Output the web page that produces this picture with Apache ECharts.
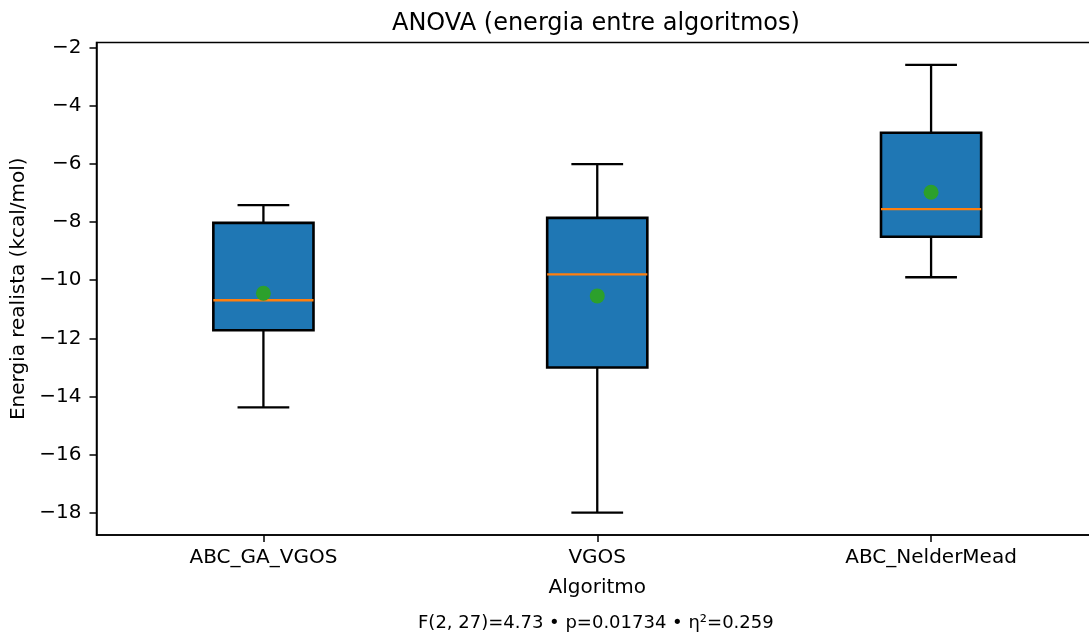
<!DOCTYPE html>
<html>
<head>
<meta charset="utf-8">
<script src="https://cdn.jsdelivr.net/npm/echarts@6/dist/echarts.min.js"></script>
<style>html,body{margin:0;padding:0;background:#fff}#c{width:1089px;height:635px}</style>
</head>
<body>
<div id="c"></div>
<script>
const categories = ['ABC_GA_VGOS', 'VGOS', 'ABC_NelderMead'];
const whiskerLow  = [-14.37, -17.99, -9.90];
const q1Values    = [-11.72, -13.00, -8.51];
const medians     = [-10.69, -9.80, -7.56];
const q3Values    = [-8.03, -7.86, -4.93];
const whiskerHigh = [-7.42, -6.01, -2.60];
const means       = [-10.45, -10.54, -6.98];
const yTicks = [-18, -16, -14, -12, -10, -8, -6, -4, -2];
const yMin = -18.76, yMax = -1.83;
const titleText = 'ANOVA (energia entre algoritmos)';
const xLabel = 'Algoritmo';
const yLabel = 'Energia realista (kcal/mol)';
const noteText = 'F(2, 27)=4.73 • p=0.01734 • η²=0.259';

const FONT = 'DejaVu Sans';
const boxData = categories.map((c, i) => [i, whiskerLow[i], q1Values[i], medians[i], q3Values[i], whiskerHigh[i]]);
const meanData = categories.map((c, i) => [i, means[i]]);
const fmt = v => String(v).replace('-', '\u2212');

const chart = echarts.init(document.getElementById('c'), null, {renderer: 'canvas'});
chart.setOption({
  animation: false,
  backgroundColor: '#ffffff',
  grid: {
    left: 96.5, right: -9, top: 42.5, bottom: 100,
    containLabel: false, outerBoundsMode: 'none',
    show: true, borderColor: '#000', borderWidth: 1.5, backgroundColor: 'transparent'
  },
  xAxis: {
    type: 'category', data: categories, boundaryGap: true,
    name: xLabel, nameLocation: 'middle', nameGap: 43,
    nameTextStyle: {fontFamily: FONT, fontSize: 20, color: '#000'},
    axisLine: {show: true, lineStyle: {color: '#000', width: 1.5}},
    axisTick: {show: true, alignWithLabel: true, length: 7, lineStyle: {color: '#000', width: 1.5}},
    axisLabel: {fontFamily: FONT, fontSize: 20, color: '#000', margin: 13, interval: 0},
    splitLine: {show: false}
  },
  yAxis: {
    type: 'value', min: yMin, max: yMax,
    name: yLabel, nameLocation: 'middle', nameGap: 59,
    nameTextStyle: {fontFamily: FONT, fontSize: 20, color: '#000'},
    axisLine: {show: true, lineStyle: {color: '#000', width: 1.5}},
    axisTick: {show: true, length: 7, customValues: yTicks, lineStyle: {color: '#000', width: 1.5}},
    axisLabel: {fontFamily: FONT, fontSize: 20, color: '#000', margin: 15, customValues: yTicks, formatter: fmt},
    splitLine: {show: false}
  },
  graphic: [
    {type: 'text', left: 597 - 205, top: 12, z: 10,
     style: {text: titleText, x: 0, y: 0, font: '24px "DejaVu Sans"', fill: '#000'}},
    {type: 'text', left: 418, top: 614, z: 10,
     style: {text: noteText, font: '18px "DejaVu Sans"', fill: '#000'}}
  ],
  series: [
    {
      type: 'custom',
      data: boxData,
      encode: {x: 0, y: [1, 2, 3, 4, 5]},
      z: 2,
      renderItem: function (params, api) {
        const idx = api.value(0);
        const pLo = api.coord([idx, api.value(1)]);
        const pQ1 = api.coord([idx, api.value(2)]);
        const pMed = api.coord([idx, api.value(3)]);
        const pQ3 = api.coord([idx, api.value(4)]);
        const pHi = api.coord([idx, api.value(5)]);
        const band = api.size([1, 0])[0];
        const cx = pMed[0];
        const bw = band * 0.3, cw = band * 0.155;
        const lineStyle = {stroke: '#000', lineWidth: 2.3};
        return {
          type: 'group',
          children: [
            {type: 'line', shape: {x1: cx, y1: pQ1[1], x2: cx, y2: pLo[1]}, style: lineStyle},
            {type: 'line', shape: {x1: cx, y1: pQ3[1], x2: cx, y2: pHi[1]}, style: lineStyle},
            {type: 'line', shape: {x1: cx - cw / 2, y1: pLo[1], x2: cx + cw / 2, y2: pLo[1]}, style: lineStyle},
            {type: 'line', shape: {x1: cx - cw / 2, y1: pHi[1], x2: cx + cw / 2, y2: pHi[1]}, style: lineStyle},
            {type: 'rect', shape: {x: cx - bw / 2, y: pQ3[1], width: bw, height: pQ1[1] - pQ3[1]},
             style: {fill: '#1f77b4', stroke: '#000', lineWidth: 2.6}},
            {type: 'line', shape: {x1: cx - bw / 2, y1: pMed[1], x2: cx + bw / 2, y2: pMed[1]},
             style: {stroke: '#ff7f0e', lineWidth: 2.3}}
          ]
        };
      }
    },
    {
      type: 'scatter',
      data: meanData,
      symbol: 'circle', symbolSize: 15, z: 5,
      itemStyle: {color: '#2ca02c', opacity: 1}
    }
  ]
});
</script>
</body>
</html>
